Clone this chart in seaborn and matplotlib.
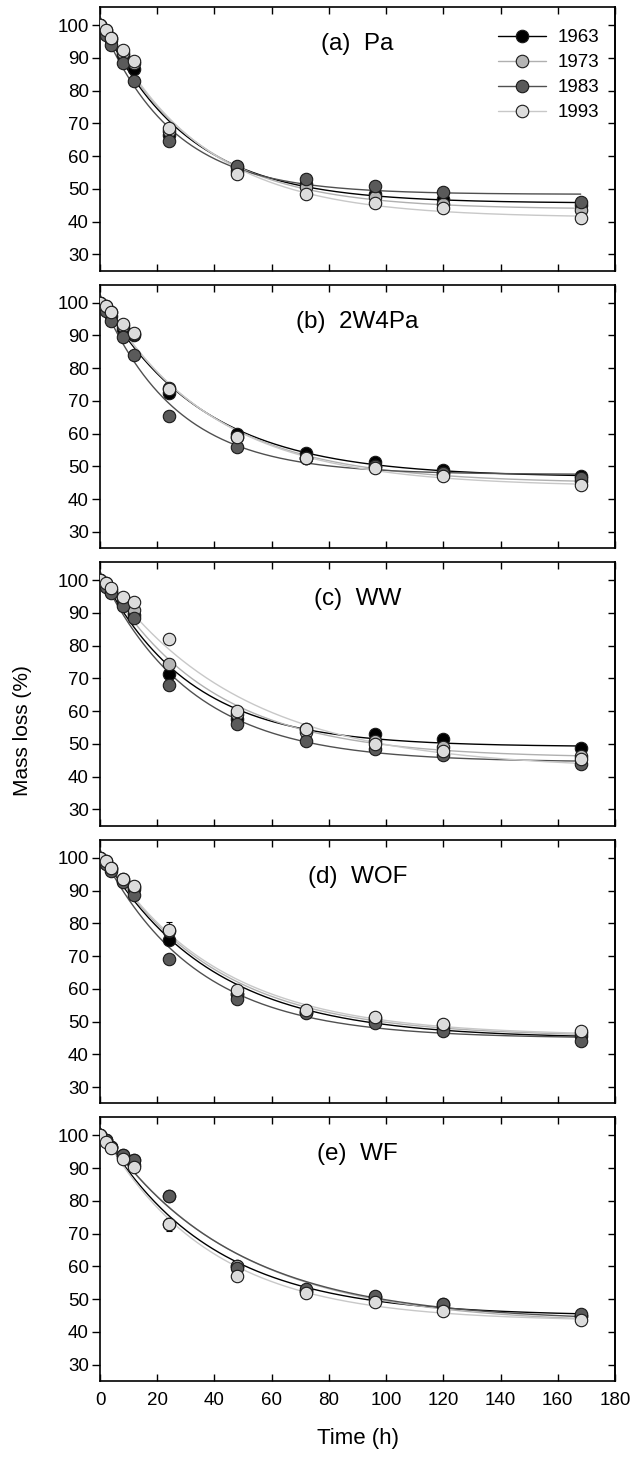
import numpy as np
import matplotlib
matplotlib.use("Agg")
import matplotlib.pyplot as plt
from matplotlib.lines import Line2D
import seaborn as sns

# sampling times (h)
times = [0, 2, 4, 8, 12, 24, 48, 72, 96, 120, 168]
years = ["1963", "1973", "1983", "1993"]

# mass remaining (%), one list per treatment and year
pa_1963 = [100, 98.0, 95.5, 91.0, 86.5, 66.5, 56.5, 51.5, 48.5, 47.0, 45.0]
pa_1973 = [100, 98.5, 96.0, 91.5, 88.5, 67.5, 55.5, 50.5, 47.5, 45.5, 43.5]
pa_1983 = [100, 97.0, 94.0, 88.5, 83.0, 64.5, 57.0, 53.0, 50.8, 49.0, 46.0]
pa_1993 = [100, 98.5, 96.0, 92.5, 89.0, 68.5, 54.5, 48.5, 45.8, 44.0, 41.2]

w2pa_1963 = [100, 98.5, 96.0, 92.0, 90.0, 72.5, 60.0, 54.2, 51.2, 49.0, 47.0]
w2pa_1973 = [100, 99.0, 97.0, 93.0, 90.5, 74.0, 59.0, 52.5, 50.0, 48.0, 45.5]
w2pa_1983 = [100, 97.5, 94.5, 89.5, 84.0, 65.5, 56.0, 52.5, 50.0, 48.0, 46.5]
w2pa_1993 = [100, 99.0, 97.0, 93.5, 90.8, 73.5, 59.0, 52.5, 49.5, 47.2, 44.3]

ww_1963 = [100, 98.5, 96.5, 93.0, 89.5, 71.5, 57.5, 54.5, 53.0, 51.4, 48.7]
ww_1973 = [100, 99.0, 97.0, 94.0, 91.0, 74.5, 59.0, 53.5, 51.0, 49.0, 46.3]
ww_1983 = [100, 98.0, 96.0, 92.0, 88.5, 68.0, 56.0, 51.0, 48.5, 46.5, 44.0]
ww_1993 = [100, 99.0, 97.5, 94.8, 93.2, 82.2, 60.2, 54.5, 50.0, 48.0, 45.3]

wof_1963 = [100, 98.5, 96.5, 93.0, 90.5, 75.0, 58.5, 53.0, 50.5, 48.0, 45.5]
wof_1973 = [100, 99.0, 97.0, 93.5, 91.0, 77.5, 58.5, 53.0, 51.0, 49.0, 46.5]
wof_1983 = [100, 98.0, 96.0, 92.5, 88.5, 69.0, 56.8, 52.5, 49.5, 47.0, 44.0]
wof_1993 = [100, 99.0, 97.0, 93.5, 91.5, 78.0, 59.6, 53.5, 51.5, 49.3, 47.0]

wf_1963 = [100, 98.5, 96.5, 93.5, 91.0, 73.0, 60.0, 52.5, 50.5, 48.5, 45.0]
wf_1973 = [100, 98.5, 96.5, 94.0, 92.5, 81.5, 60.0, 52.5, 50.5, 48.0, 45.0]
wf_1983 = [100, 98.5, 96.5, 94.0, 92.5, 81.5, 59.5, 53.0, 51.0, 48.5, 45.5]
wf_1993 = [100, 98.0, 96.0, 92.8, 90.2, 72.9, 57.2, 52.0, 49.0, 46.5, 43.5]

# standard errors (mostly hidden behind the markers)
err_default = [0, 0.6, 0.6, 0.8, 1.0, 1.5, 1.2, 1.0, 1.0, 1.0, 1.0]
err_wof_1993 = [0, 0.6, 0.6, 0.8, 1.0, 2.5, 1.2, 1.0, 1.0, 1.0, 1.0]
err_wf_1993 = [0, 0.6, 0.6, 0.8, 1.0, 2.0, 1.2, 1.0, 1.0, 1.0, 1.0]

panel_titles = ["(a)  Pa", "(b)  2W4Pa", "(c)  WW", "(d)  WOF", "(e)  WF"]
panel_data = [
    [pa_1963, pa_1973, pa_1983, pa_1993],
    [w2pa_1963, w2pa_1973, w2pa_1983, w2pa_1993],
    [ww_1963, ww_1973, ww_1983, ww_1993],
    [wof_1963, wof_1973, wof_1983, wof_1993],
    [wf_1963, wf_1973, wf_1983, wf_1993],
]
panel_errs = [
    [err_default] * 4,
    [err_default] * 4,
    [err_default] * 4,
    [err_default, err_default, err_default, err_wof_1993],
    [err_default, err_default, err_default, err_wf_1993],
]

marker_colors = ["#000000", "#b4b4b4", "#5a5a5a", "#dcdcdc"]
line_colors = ["#000000", "#b0b0b0", "#505050", "#c8c8c8"]


def fit_decay(t, y):
    # y = c + a*exp(-k t), k by grid search, a and c by least squares
    t = np.asarray(t, float)
    y = np.asarray(y, float)
    best = None
    for k in np.linspace(0.005, 0.15, 600):
        A = np.column_stack([np.ones_like(t), np.exp(-k * t)])
        coef, *_ = np.linalg.lstsq(A, y, rcond=None)
        sse = np.sum((A @ coef - y) ** 2)
        if best is None or sse < best[0]:
            best = (sse, coef[0], coef[1], k)
    return best[1:]


sns.set_style("ticks")
plt.rcParams["font.family"] = ["Liberation Sans", "DejaVu Sans"]
plt.rcParams.update({
    "axes.linewidth": 1.2,
    "axes.edgecolor": "black",
    "text.color": "black",
    "axes.labelcolor": "black",
    "xtick.color": "black",
    "ytick.color": "black",
})

fig, axes = plt.subplots(5, 1, figsize=(6.33, 14.62), dpi=100, sharex=True)
fig.subplots_adjust(left=0.158, right=0.9716, top=0.9952, bottom=0.0554, hspace=0.053)

t_fine = np.linspace(0, 168, 300)

for ax, title, series, errs in zip(axes, panel_titles, panel_data, panel_errs):
    for i, (vals, err) in enumerate(zip(series, errs)):
        c, a, k = fit_decay(times, vals)
        sns.lineplot(x=t_fine, y=c + a * np.exp(-k * t_fine), ax=ax,
                     color=line_colors[i], lw=1.0, zorder=2 + i * 0.1)
    for i, (vals, err) in enumerate(zip(series, errs)):
        ax.errorbar(times, vals, yerr=err, fmt="none", ecolor="black",
                    elinewidth=0.8, capsize=2.5, capthick=0.8, zorder=3 + i * 0.1)
        sns.scatterplot(x=times, y=vals, ax=ax, color=marker_colors[i],
                        edgecolor="#1a1a1a", linewidth=0.8, s=80, zorder=4 + i * 0.1)

    ax.set_xlim(0, 180)
    ax.set_ylim(25, 105.5)
    ax.set_yticks(range(30, 101, 10))
    ax.set_xticks(range(0, 181, 20))
    ax.tick_params(axis="y", direction="out", length=6, width=1, labelsize=13.5, pad=2)
    ax.tick_params(axis="x", direction="in", length=5, width=1, top=True, labelsize=13.5, pad=8)
    sec = ax.secondary_yaxis("right")
    sec.set_yticks(range(30, 101, 10))
    sec.tick_params(direction="in", length=5, width=1, labelright=False)
    sec.spines["right"].set_linewidth(1.2)
    ax.set_xlabel("")
    ax.set_ylabel("")
    ax.text(0.5, 0.86, title, transform=ax.transAxes, ha="center", va="center", fontsize=17.5)

handles = [
    Line2D([0], [0], color=line_colors[i], lw=1.0, marker="o", markersize=9,
           markerfacecolor=marker_colors[i], markeredgecolor="#1a1a1a", markeredgewidth=0.8)
    for i in range(4)
]
axes[0].legend(handles, years, loc="upper right", bbox_to_anchor=(0.995, 0.965), frameon=False,
               fontsize=13.5, handlelength=2.6, handletextpad=0.6, labelspacing=0.42, borderaxespad=0.3)

fig.text(0.035, 0.5, "Mass loss (%)", rotation=90, ha="center", va="center", fontsize=15)
fig.text(0.565, 0.0164, "Time (h)", ha="center", va="center", fontsize=16)

fig.savefig("out.png", dpi=100)
